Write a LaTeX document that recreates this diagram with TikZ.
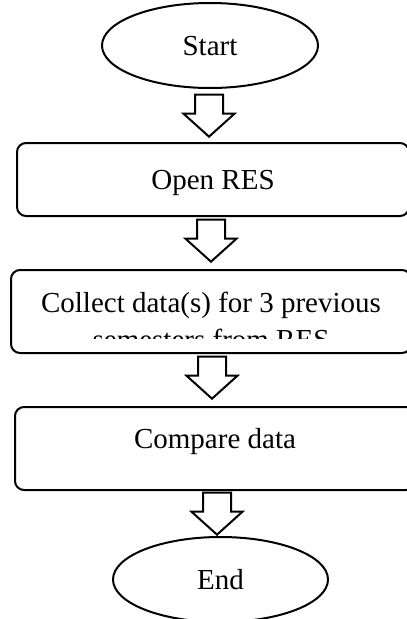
\documentclass[tikz,border=0pt]{standalone}
\usepackage{fontspec}
\setmainfont{Liberation Serif}
\usetikzlibrary{shapes.geometric,shapes.arrows}

\tikzset {
    oval/.style={ellipse, draw=black, line width=2pt, minimum width=216pt, minimum height=85pt, inner sep=0pt, text depth=0pt},
    stepbox/.style={rectangle, rounded corners=9pt, draw=black, line width=2pt, minimum width=400pt, minimum height=83pt, inner sep=0pt, text depth=0pt},
    blockarr/.style={single arrow, draw=black, line width=2pt, fill=white, rotate=-90, inner xsep=0pt, inner ysep=13pt, minimum height=42pt, minimum width=49pt, single arrow tip angle=96, single arrow head extend=11.5pt, anchor=tip},
}

\begin{document}
\begin{tikzpicture}[x=1pt, y=-1pt, font=\fontsize{29}{37}\selectfont]
    \useasboundingbox (0,0) rectangle (407,619);
    \node at (210, 45.5) [oval] (start) {Start};
    \node at (213, 179.5) [stepbox, minimum width=392pt, minimum height=73pt] (open) {Open RES};
    \node at (211, 311.5) [stepbox] (collect) {};
    \begin{scope}
        \clip (collect.north west) rectangle (411, 338);
        \node at (211, 292) [anchor=north, align=center, inner sep=0pt] (collecttext) {Collect data(s) for 3 previous\\semesters from RES};
    \end{scope}
    \node at (215, 448.5) [stepbox, text height=20pt, text depth=21pt] (compare) {Compare data};
    \node at (220.5, 579.5) [oval, minimum width=215pt] (stop) {End};
    \node at ([xshift=-4pt, yshift=4pt]open.north) [blockarr] (a1) {};
    \node at ([yshift=6pt]collect.north) [blockarr] (a2) {};
    \node at ([xshift=-3pt, yshift=6pt]compare.north) [blockarr] (a3) {};
    \node at ([xshift=-3.5pt]stop.north) [blockarr] (a4) {};
\end{tikzpicture}
\end{document}
